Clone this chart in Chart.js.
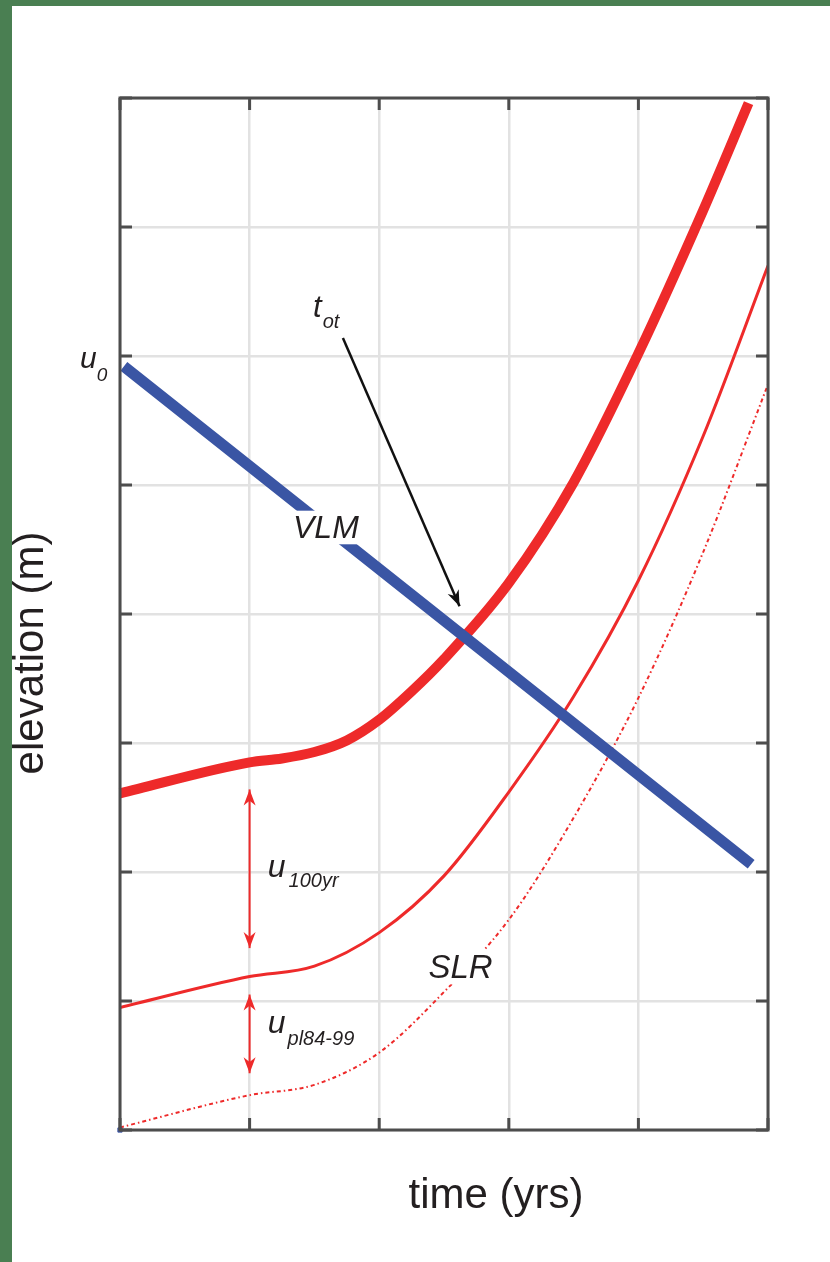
<!DOCTYPE html>
<html>
<head>
<meta charset="utf-8">
<script src="https://cdn.jsdelivr.net/npm/chart.js@4.4.0/dist/chart.umd.min.js"></script>
<style>
  html, body { margin: 0; padding: 0; background: #fff; }
</style>
</head>
<body>
<canvas id="elev-chart" width="830" height="1262"></canvas>
<script>
// axes (no labels on the ticks, just the grid)
var timeTicks = [0, 1, 2, 3, 4, 5];
var elevTicks = [0, 1, 2, 3, 4, 5, 6, 7, 8];

// thick red: SLR + plume + 100yr surge
var timeSurge = [0, 1, 1.25, 1.5, 1.75, 2, 2.25, 2.5, 3, 3.5, 4, 4.5, 4.85];
var elevSurge = [2.61, 2.85, 2.88, 2.93, 3.02, 3.18, 3.40, 3.65, 4.24, 5.02, 6.02, 7.13, 7.96];

// thin red: SLR + plume
var timePlume = [0, 1, 1.5, 2, 2.5, 3, 3.5, 4, 4.5, 5];
var elevPlume = [0.95, 1.19, 1.27, 1.53, 1.97, 2.62, 3.36, 4.26, 5.38, 6.70];

// dotted red: SLR
var timeSlr = [0, 1, 1.5, 2, 2.5, 3, 3.5, 4, 4.5, 5];
var elevSlr = [0.02, 0.27, 0.35, 0.60, 1.07, 1.63, 2.42, 3.35, 4.48, 5.78];

// blue: vertical land motion
var timeVlm = [0.03, 4.87];
var elevVlm = [5.92, 2.06];

var red = '#ee2a2a';
var blue = '#3a55a4';
var frameGrey = '#4d4d4d';

function pts(xs, ys) {
  return xs.map(function (x, i) { return { x: x, y: ys[i] }; });
}

function arrowHead(ctx, x, y, ang, len, wid, color) {
  ctx.save();
  ctx.translate(x, y);
  ctx.rotate(ang);
  ctx.beginPath();
  ctx.moveTo(0, 0);
  ctx.lineTo(-len, -wid / 2);
  ctx.lineTo(-len * 0.7, 0);
  ctx.lineTo(-len, wid / 2);
  ctx.closePath();
  ctx.fillStyle = color;
  ctx.fill();
  ctx.restore();
}

function arrow(ctx, x1, y1, x2, y2, color, lw, both) {
  ctx.save();
  ctx.strokeStyle = color;
  ctx.lineWidth = lw;
  ctx.beginPath();
  ctx.moveTo(x1, y1);
  ctx.lineTo(x2, y2);
  ctx.stroke();
  var ang = Math.atan2(y2 - y1, x2 - x1);
  arrowHead(ctx, x2, y2, ang, 16, 12, color);
  if (both) arrowHead(ctx, x1, y1, ang + Math.PI, 16, 12, color);
  ctx.restore();
}

function subLabel(ctx, main, sub, x, y, size, subSize, subDx, subDy) {
  ctx.fillStyle = '#231f20';
  ctx.textAlign = 'left';
  ctx.textBaseline = 'alphabetic';
  ctx.font = 'italic ' + size + 'px "Liberation Sans", Arial, sans-serif';
  ctx.fillText(main, x, y);
  var w = ctx.measureText(main).width;
  ctx.font = 'italic ' + subSize + 'px "Liberation Sans", Arial, sans-serif';
  ctx.fillText(sub, x + w + subDx, y + subDy);
}

function boxedLabel(ctx, txt, x, y, size) {
  ctx.font = 'italic ' + size + 'px "Liberation Sans", Arial, sans-serif';
  var w = ctx.measureText(txt).width;
  ctx.fillStyle = '#fff';
  ctx.fillRect(x - 4, y - size * 0.85, w + 8, size * 1.05);
  ctx.fillStyle = '#231f20';
  ctx.textAlign = 'left';
  ctx.textBaseline = 'alphabetic';
  ctx.fillText(txt, x, y);
}

var framePlugin = {
  id: 'framePlugin',
  beforeDraw: function (chart) {
    var ctx = chart.ctx;
    ctx.save();
    ctx.fillStyle = '#fff';
    ctx.fillRect(0, 0, chart.width, chart.height);
    ctx.fillStyle = '#4a7f52';
    ctx.fillRect(0, 0, 12, chart.height);
    ctx.fillRect(0, 0, chart.width, 6);
    ctx.restore();
  },
  afterDatasetsDraw: function (chart) {
    var ctx = chart.ctx;
    var xs = chart.scales.x, ys = chart.scales.y;
    var a = chart.chartArea;
    var px = function (v) { return xs.getPixelForValue(v); };
    var py = function (v) { return ys.getPixelForValue(v); };
    ctx.save();

    // box + inward ticks
    ctx.strokeStyle = frameGrey;
    ctx.lineWidth = 3;
    ctx.strokeRect(a.left, a.top, a.right - a.left, a.bottom - a.top);
    ctx.beginPath();
    timeTicks.forEach(function (t) {
      ctx.moveTo(px(t), a.bottom); ctx.lineTo(px(t), a.bottom - 12);
      ctx.moveTo(px(t), a.top); ctx.lineTo(px(t), a.top + 12);
    });
    elevTicks.forEach(function (e) {
      ctx.moveTo(a.left, py(e)); ctx.lineTo(a.left + 12, py(e));
      ctx.moveTo(a.right, py(e)); ctx.lineTo(a.right - 12, py(e));
    });
    ctx.stroke();

    // labels on the lines
    boxedLabel(ctx, 'VLM', px(1.335), py(4.59), 32);
    boxedLabel(ctx, 'SLR', px(2.38), py(1.18), 33);

    // t_ot with arrow to the crossing
    subLabel(ctx, 't', 'ot', px(1.49), py(6.30), 31, 20, 1, 11);
    arrow(ctx, px(1.72), py(6.14), px(2.62), py(4.06), '#111', 2.5, false);

    // u0 at the axis
    subLabel(ctx, 'u', '0', a.left - 40, py(6) + 12, 30, 19, 0, 13);

    // u_100yr and u_pl84-99 double arrows
    arrow(ctx, px(1), py(2.64), px(1), py(1.41), red, 2, true);
    arrow(ctx, px(1), py(1.05), px(1), py(0.44), red, 2, true);
    subLabel(ctx, 'u', '100yr', px(1.14), py(1.96), 32, 20, 3, 10);
    subLabel(ctx, 'u', 'pl84-99', px(1.14), py(0.75), 32, 20, 2, 12);

    // axis titles
    ctx.fillStyle = '#231f20';
    ctx.font = '42px "Liberation Sans", Arial, sans-serif';
    ctx.textAlign = 'center';
    ctx.textBaseline = 'alphabetic';
    ctx.fillText('time (yrs)', 496, 1208);
    ctx.translate(43, 653);
    ctx.rotate(-Math.PI / 2);
    ctx.fillText('elevation (m)', 0, 0);
    ctx.restore();
  }
};

var lineBase = { pointRadius: 0, fill: false, cubicInterpolationMode: 'monotone' };

var chart = new Chart(document.getElementById('elev-chart'), {
  type: 'scatter',
  data: {
    datasets: [{
      data: [{ x: 0, y: 0 }],
      pointStyle: 'rect',
      pointRadius: 3,
      backgroundColor: blue,
      borderColor: blue,
      clip: false
    }, Object.assign({}, lineBase, {
      data: pts(timeVlm, elevVlm),
      showLine: true,
      borderColor: blue,
      borderWidth: 11,
      borderCapStyle: 'butt'
    }), Object.assign({}, lineBase, {
      data: pts(timeSurge, elevSurge),
      showLine: true,
      borderColor: red,
      borderWidth: 10,
      clip: false
    }), Object.assign({}, lineBase, {
      data: pts(timePlume, elevPlume),
      showLine: true,
      borderColor: red,
      borderWidth: 3
    }), Object.assign({}, lineBase, {
      data: pts(timeSlr, elevSlr),
      showLine: true,
      borderColor: red,
      borderWidth: 2,
      borderDash: [4, 3, 1.5, 3]
    })]
  },
  options: {
    responsive: false,
    animation: false,
    events: [],
    layout: { padding: { left: 120, right: 62, top: 98, bottom: 132 } },
    plugins: { legend: { display: false }, tooltip: { enabled: false } },
    scales: {
      x: {
        type: 'linear', min: 0, max: 5,
        ticks: { display: false, stepSize: 1 },
        grid: { color: '#e2e2e2', lineWidth: 2.5, drawTicks: false },
        border: { display: false }
      },
      y: {
        type: 'linear', min: 0, max: 8,
        ticks: { display: false, stepSize: 1 },
        grid: { color: '#e2e2e2', lineWidth: 2.5, drawTicks: false },
        border: { display: false }
      }
    }
  },
  plugins: [framePlugin]
});
</script>
</body>
</html>
